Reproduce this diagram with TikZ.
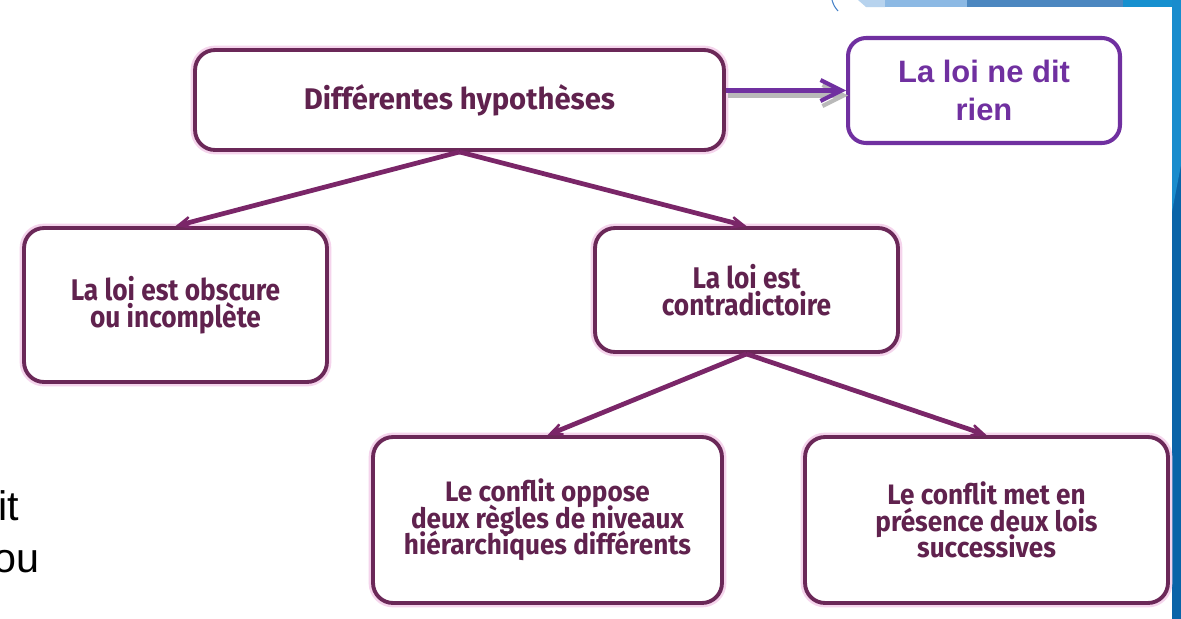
\documentclass[tikz,border=0pt]{standalone}
\usepackage{fontspec}
\setmainfont{Liberation Sans}
\newfontfamily\hypfont{Fira Sans}[FakeStretch=0.88]
\newfontfamily\titlefont{Fira Sans}[FakeStretch=0.98]
\newfontfamily\lowfont{Fira Sans}[FakeStretch=0.93]
\newcommand\tightlines{\lineskiplimit=-20pt\relax}
\usetikzlibrary{arrows.meta}
\definecolor{plumline}{RGB}{107,40,88}
\definecolor{plumtext}{RGB}{96,34,78}
\definecolor{plumarrow}{RGB}{122,38,104}
\definecolor{plumglow}{RGB}{245,212,236}
\definecolor{loipurple}{RGB}{112,48,160}
\definecolor{stripdark}{RGB}{10,100,168}
\definecolor{striplight}{RGB}{25,140,205}
\definecolor{bandone}{RGB}{183,211,238}
\definecolor{bandtwo}{RGB}{140,185,228}
\definecolor{bandthree}{RGB}{76,135,192}
\definecolor{bandfour}{RGB}{23,144,207}
\definecolor{arcblue}{RGB}{70,130,200}

\begin{document}
\begin{tikzpicture}[x=0.02cm, y=-0.02cm,
  hypbox/.style={draw=plumline, line width=2.2pt, rounded corners=0.4cm, fill=white,
    text=plumtext, font=\hypfont\bfseries\fontsize{17}{15.5}\selectfont\tightlines,
    align=center, inner sep=0pt, preaction={draw=plumglow, line width=5pt}},
  lowbox/.style={hypbox, minimum height=3.32cm,
    font=\lowfont\bfseries\fontsize{16}{15}\selectfont\tightlines},
  rienbox/.style={draw=loipurple, line width=2.3pt, rounded corners=0.36cm, fill=white,
    text=loipurple, font=\bfseries\fontsize{17.6}{22}\selectfont, align=center, inner sep=0pt},
  plumarrow/.style={draw=plumarrow, line width=2.7pt,
    -{Stealth[length=0.52cm, width=0.46cm, inset=0.34cm]}},
  loiarrow/.style={line width=2.3pt, -{Straight Barb[length=0.42cm, width=0.42cm]}},
  slidetext/.style={anchor=base east, inner sep=0pt, font=\fontsize{23.5}{23.5}\selectfont}]
\useasboundingbox (0,0) rectangle (1181,619);

\fill[white] (0,0) rectangle (1181,619);
\fill[stripdark] (1172,0) rectangle (1181,619);
\fill[striplight] (1172,0) -- (1181,0) -- (1181,165) -- (1172,212) -- cycle;
\fill[bandone] (858,0) -- (885,0) -- (885,7) -- (866,7) -- cycle;
\fill[bandtwo] (885,0) rectangle (967,7);
\fill[bandthree] (967,0) rectangle (1123,7);
\fill[bandfour] (1123,0) rectangle (1172,7);
\draw[arcblue, line width=0.6pt] (832,0) .. controls (834,6) .. (838,11);

\node[slidetext] (it) at (19,520) {it};
\node[slidetext] (ou) at (40,572) {ou};

\node[hypbox, minimum width=10.58cm, minimum height=2cm, font=\titlefont\bfseries\fontsize{17}{17}\selectfont] (hyp) at (459.5,100) {Différentes hypothèses};
\node[rienbox, minimum width=5.44cm, minimum height=2.1cm] (rien) at (984,90.5) {La loi ne dit\\rien};
\node[hypbox, minimum width=6.06cm, minimum height=3.08cm] (obscure) at (175.5,305) {La loi est obscure\\ou incomplète};
\node[hypbox, minimum width=6.06cm, minimum height=2.48cm] (contra) at (746.5,290) {La loi est\\contradictoire};
\node[lowbox, minimum width=6.98cm] (oppose) at (547.5,520) {Le conflit oppose\\deux règles de niveaux\\hiérarchiques différents};
\node[lowbox, minimum width=7.26cm] (succ) at (986.5,520) {Le conflit met en\\présence deux lois\\successives};

\coordinate (loistart) at (hyp.east |- rien.west);
\draw[loiarrow, gray!55] ([shift={(2,5)}]loistart) -- ([shift={(2,5)}]rien.west);
\draw[loiarrow, loipurple] (loistart) -- (rien.west);

\draw[plumarrow] (hyp.south) -- (obscure.north);
\draw[plumarrow] (hyp.south) -- (contra.north);
\draw[plumarrow] (contra.south) -- (oppose.north);
\draw[plumarrow] (contra.south) -- (succ.north);
\end{tikzpicture}
\end{document}
